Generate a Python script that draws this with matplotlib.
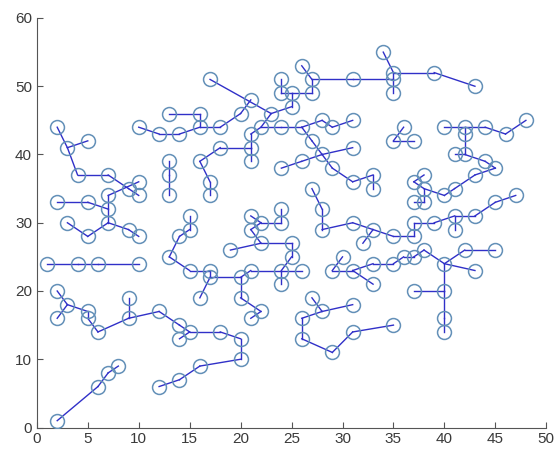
import matplotlib
matplotlib.use('Agg')
import matplotlib.pyplot as plt

plt.rcParams['font.family'] = ['Liberation Sans', 'DejaVu Sans']

# Arestas da árvore: cada uma liga dois nós (x, y)
arestas = [
    ((2, 1), (6, 6)), ((6, 6), (7, 8)), ((7, 8), (8, 9)),

    ((12, 6), (14, 7)), ((14, 7), (16, 9)), ((16, 9), (20, 10)), ((20, 10), (20, 13)),
    ((20, 13), (18, 14)), ((18, 14), (15, 14)), ((15, 14), (14, 13)), ((15, 14), (14, 15)),
    ((14, 15), (12, 17)), ((12, 17), (9, 16)), ((9, 16), (9, 19)), ((9, 16), (6, 14)),
    ((6, 14), (5, 16)), ((5, 16), (5, 17)), ((5, 17), (3, 18)), ((3, 18), (2, 20)),
    ((3, 18), (2, 16)),

    ((1, 24), (4, 24)), ((4, 24), (6, 24)), ((6, 24), (10, 24)),

    ((3, 30), (5, 28)), ((5, 28), (7, 30)), ((7, 30), (9, 29)), ((9, 29), (10, 28)),
    ((7, 30), (7, 32)), ((7, 32), (7, 34)), ((2, 33), (5, 33)), ((5, 33), (7, 32)),
    ((7, 34), (10, 36)), ((7, 37), (9, 35)), ((9, 35), (10, 34)), ((4, 37), (7, 37)),
    ((3, 41), (4, 37)), ((2, 44), (3, 41)), ((3, 41), (5, 42)),

    ((10, 44), (12, 43)), ((12, 43), (14, 43)), ((14, 43), (16, 44)), ((16, 44), (18, 44)),
    ((16, 44), (16, 46)), ((16, 46), (13, 46)), ((18, 44), (20, 46)), ((20, 46), (21, 48)),
    ((17, 51), (23, 46)), ((23, 46), (25, 47)), ((25, 47), (25, 49)), ((24, 49), (25, 49)),
    ((25, 49), (27, 49)), ((24, 49), (24, 51)), ((27, 49), (27, 51)), ((27, 51), (26, 53)),
    ((27, 51), (31, 51)), ((31, 51), (35, 51)), ((35, 51), (35, 49)), ((35, 51), (35, 52)),
    ((35, 52), (34, 55)), ((35, 52), (39, 52)), ((39, 52), (43, 50)),

    ((23, 46), (22, 44)), ((22, 44), (21, 43)), ((21, 43), (21, 41)), ((21, 41), (21, 39)),
    ((21, 41), (18, 41)), ((18, 41), (16, 39)), ((16, 39), (17, 36)), ((17, 36), (17, 34)),
    ((22, 44), (24, 44)), ((24, 44), (26, 44)), ((26, 44), (28, 45)), ((28, 45), (29, 44)),
    ((29, 44), (31, 45)), ((26, 44), (27, 42)), ((27, 42), (28, 40)), ((28, 40), (29, 38)),
    ((29, 38), (31, 36)), ((31, 36), (33, 37)), ((33, 37), (33, 35)), ((24, 38), (26, 39)),
    ((26, 39), (28, 40)), ((28, 40), (31, 41)),

    ((13, 39), (13, 37)), ((13, 37), (13, 34)),

    ((15, 31), (15, 29)), ((15, 29), (14, 28)), ((14, 28), (13, 25)), ((13, 25), (15, 23)),
    ((15, 23), (17, 23)), ((17, 23), (17, 22)), ((17, 22), (16, 19)), ((17, 22), (20, 22)),
    ((20, 22), (21, 23)), ((21, 23), (24, 23)), ((24, 23), (26, 23)), ((24, 23), (24, 21)),
    ((24, 23), (25, 25)), ((25, 25), (25, 27)), ((25, 27), (22, 27)), ((22, 27), (19, 26)),
    ((22, 27), (21, 29)), ((21, 29), (22, 30)), ((22, 30), (21, 31)), ((22, 30), (24, 30)),
    ((24, 30), (24, 32)), ((20, 22), (20, 19)), ((20, 19), (22, 17)), ((22, 17), (21, 16)),

    ((26, 16), (26, 13)), ((26, 13), (29, 11)), ((29, 11), (31, 14)), ((31, 14), (35, 15)),
    ((26, 16), (28, 17)), ((28, 17), (31, 18)), ((28, 17), (27, 19)),

    ((27, 35), (28, 32)), ((28, 32), (28, 29)), ((28, 29), (31, 30)), ((31, 30), (33, 29)),
    ((33, 29), (32, 27)), ((33, 29), (35, 28)), ((35, 28), (37, 28)), ((37, 28), (37, 30)),
    ((37, 30), (39, 30)), ((39, 30), (41, 31)), ((41, 31), (41, 29)), ((41, 31), (43, 31)),
    ((43, 31), (45, 33)), ((45, 33), (47, 34)),

    ((30, 25), (29, 23)), ((29, 23), (31, 23)), ((31, 23), (33, 21)), ((31, 23), (33, 24)),
    ((33, 24), (35, 24)), ((35, 24), (36, 25)), ((36, 25), (37, 25)), ((37, 25), (38, 26)),
    ((38, 26), (40, 24)), ((40, 24), (42, 26)), ((42, 26), (45, 26)), ((40, 24), (43, 23)),
    ((40, 24), (40, 20)), ((40, 20), (37, 20)), ((40, 20), (40, 16)), ((40, 16), (40, 14)),

    ((35, 42), (36, 44)), ((35, 42), (37, 42)),

    ((40, 44), (42, 44)), ((42, 44), (44, 44)), ((44, 44), (46, 43)), ((46, 43), (48, 45)),
    ((42, 44), (42, 43)), ((42, 43), (42, 40)), ((41, 40), (42, 40)), ((42, 40), (44, 39)),
    ((44, 39), (45, 38)), ((45, 38), (43, 37)), ((43, 37), (41, 35)), ((41, 35), (40, 34)),
    ((40, 34), (38, 35)), ((38, 35), (37, 36)), ((37, 36), (38, 37)), ((38, 35), (38, 33)),
    ((38, 33), (37, 33)),
]

# nós = todos os pontos extremos das arestas
nos = sorted(set(p for a in arestas for p in a))
nos_x = [p[0] for p in nos]
nos_y = [p[1] for p in nos]

fig = plt.figure(figsize=(5.58, 4.5), dpi=100)
ax = fig.add_axes([0.066, 0.05, 0.913, 0.91])

for (x1, y1), (x2, y2) in arestas:
    ax.plot([x1, x2], [y1, y2], color='#3030c8', lw=1.0, zorder=2)

ax.plot(nos_x, nos_y, 'o', ms=10, mfc='none', mec='#6390b8', mew=1.1, zorder=3)

ax.set_xlim(0, 50)
ax.set_ylim(0, 60)
ax.set_xticks(range(0, 51, 5))
ax.set_yticks(range(0, 61, 10))
for s in ['top', 'right']:
    ax.spines[s].set_visible(False)
for s in ['left', 'bottom']:
    ax.spines[s].set_color('#555555')
    ax.spines[s].set_linewidth(0.8)
ax.tick_params(direction='in', length=4, width=0.8, colors='#555555',
               labelcolor='#3a3a3a', labelsize=11)

fig.savefig('out.png', dpi=100, facecolor='white')
